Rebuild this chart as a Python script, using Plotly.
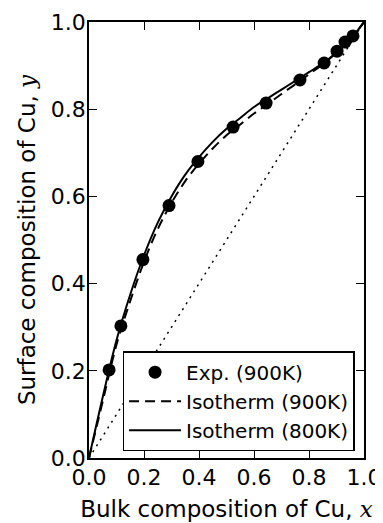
import plotly.graph_objects as go

# Experimental data (900K)
exp_x = [0.073, 0.116, 0.196, 0.291, 0.396, 0.524, 0.644, 0.767, 0.855, 0.902, 0.931, 0.960]
exp_y = [0.202, 0.303, 0.455, 0.579, 0.680, 0.759, 0.814, 0.867, 0.906, 0.933, 0.954, 0.968]

# Isotherm curves
iso_x = [0.0, 0.05, 0.1, 0.15, 0.2, 0.25, 0.3, 0.35, 0.4, 0.45, 0.5,
         0.55, 0.6, 0.65, 0.7, 0.75, 0.8, 0.85, 0.9, 0.95, 1.0]
iso900_y = [0.0, 0.13, 0.26, 0.36, 0.45, 0.525, 0.585, 0.635, 0.675, 0.71, 0.74,
            0.765, 0.79, 0.812, 0.835, 0.857, 0.88, 0.903, 0.93, 0.96, 1.0]
iso800_y = [0.0, 0.14, 0.27, 0.375, 0.465, 0.54, 0.60, 0.65, 0.69, 0.725, 0.755,
            0.78, 0.805, 0.825, 0.845, 0.865, 0.885, 0.905, 0.93, 0.96, 1.0]

diag_x = [0.0, 1.0]
diag_y = [0.0, 1.0]

FONT = "DejaVu Sans"
MATH = "style='font-family:\"DejaVu Serif\";font-style:italic'"

fig = go.Figure()
fig.add_trace(go.Scatter(x=diag_x, y=diag_y, mode="lines", showlegend=False,
                         line=dict(color="black", width=1.5, dash="2px,5px")))
fig.add_trace(go.Scatter(x=exp_x, y=exp_y, mode="markers", name="Exp. (900K)",
                         marker=dict(color="black", size=13, line=dict(width=0))))
fig.add_trace(go.Scatter(x=iso_x, y=iso900_y, mode="lines", name="Isotherm (900K)",
                         line=dict(color="black", width=2, dash="10px,6px", shape="spline")))
fig.add_trace(go.Scatter(x=iso_x, y=iso800_y, mode="lines", name="Isotherm (800K)",
                         line=dict(color="black", width=2, shape="spline")))

axis_common = dict(range=[0, 1], dtick=0.2, tickformat=".1f", ticks="inside", ticklen=8,
                   tickwidth=1, tickcolor="black", showline=True, linecolor="black",
                   linewidth=1.5, mirror="ticks", showgrid=False, zeroline=False,
                   automargin=False, ticklabeloverflow="allow",
                   tickfont=dict(family=FONT, size=22, color="black"))

# page body has an 8px default margin, so the figure is 8px smaller
fig.update_layout(
    width=375, height=515,
    margin=dict(l=81, r=19, t=14, b=65),
    plot_bgcolor="white", paper_bgcolor="white",
    font=dict(family=FONT, size=20, color="black"),
    xaxis=dict(**axis_common, ticklabelstandoff=-1,
               title=dict(text=f"Bulk composition of Cu, <span {MATH}>x</span>",
                          font=dict(family=FONT, size=23), standoff=12)),
    yaxis=dict(**axis_common, ticklabelstandoff=-3,
               title=dict(text=f"Surface composition of Cu, <span {MATH}>y</span>",
                          font=dict(family=FONT, size=23), standoff=9)),
    legend=dict(x=0.122, y=0.245, xanchor="left", yanchor="top",
                bordercolor="black", borderwidth=1.5, bgcolor="white",
                font=dict(family=FONT, size=20, color="black"),
                itemwidth=52, tracegroupgap=0),
)

fig.write_html("out.html")
